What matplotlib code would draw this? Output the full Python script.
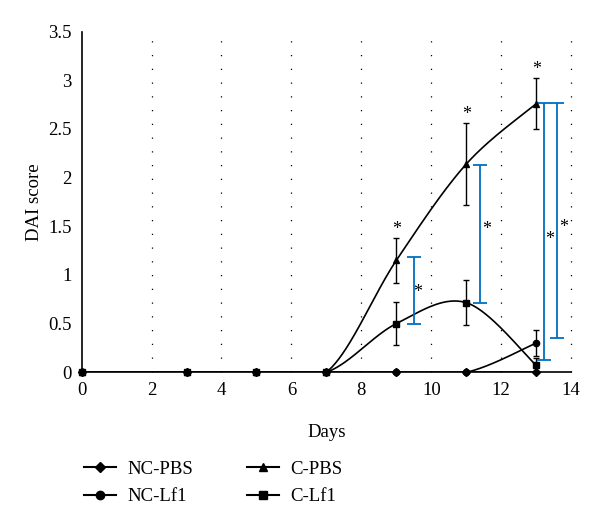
import numpy as np
import matplotlib.pyplot as plt
from matplotlib.lines import Line2D

plt.rcParams['font.family'] = ['Liberation Serif', 'DejaVu Serif']

days = [0, 3, 5, 7, 9, 11, 13]
nc_pbs = [0, 0, 0, 0, 0, 0, 0]
nc_lf1 = [0, 0, 0, 0, 0, 0, 0.30]
c_pbs = [0, 0, 0, 0, 1.15, 2.14, 2.76]
c_lf1 = [0, 0, 0, 0, 0.50, 0.715, 0.07]
nc_lf1_err = [0, 0, 0, 0, 0, 0, 0.13]
c_pbs_err = [0, 0, 0, 0, 0.23, 0.42, 0.26]
c_lf1_err = [0, 0, 0, 0, 0.22, 0.23, 0.08]

# significance brackets (x, low, high, star x, star y)
br_x = [9.5, 11.38, 13.22, 13.58]
br_lo = [0.50, 0.71, 0.13, 0.35]
br_hi = [1.18, 2.13, 2.77, 2.77]
star_x = [9.62, 11.58, 13.38, 13.78]
star_y = [0.82, 1.47, 1.36, 1.49]

blue = '#0070c0'


def smooth(x, y, n=40):
    # excel-like bezier smoothing
    p = np.column_stack([x, y]).astype(float)
    p = np.vstack([p[0], p, p[-1]])
    out = []
    for i in range(1, len(p) - 2):
        p0, p1, p2, p3 = p[i - 1], p[i], p[i + 1], p[i + 2]
        c1 = p1 + (p2 - p0) / 6
        c2 = p2 - (p3 - p1) / 6
        t = np.linspace(0, 1, n)[:, None]
        seg = (1 - t) ** 3 * p1 + 3 * (1 - t) ** 2 * t * c1 + 3 * (1 - t) * t ** 2 * c2 + t ** 3 * p2
        out.append(seg)
    out = np.vstack(out)
    return out[:, 0], out[:, 1]


fig = plt.figure(figsize=(6, 5.28), dpi=100)
ax = fig.add_axes([0.136, 0.295, 0.816, 0.645])

series = [(nc_pbs, None, 'D', 4), (nc_lf1, nc_lf1_err, 'o', 4.5),
          (c_pbs, c_pbs_err, '^', 4.5), (c_lf1, c_lf1_err, 's', 4.5)]
for y, err, m, ms in series:
    sx, sy = smooth(days, y)
    ax.plot(sx, sy, color='black', lw=1.2)
    if err is not None:
        ax.errorbar(days[4:], y[4:], yerr=err[4:], fmt='none', ecolor='black',
                    elinewidth=1, capsize=2, capthick=1, clip_on=False)
    ax.plot(days, y, ls='none', marker=m, ms=ms, color='black', clip_on=False, zorder=5)

# stars above C-PBS
for i in [4, 5, 6]:
    ax.text(days[i], c_pbs[i] + c_pbs_err[i] + 0.0, '*', ha='center', va='bottom', fontsize=13)

ax.errorbar(br_x, [(a + b) / 2 for a, b in zip(br_lo, br_hi)],
            yerr=[(b - a) / 2 for a, b in zip(br_lo, br_hi)], fmt='none',
            ecolor=blue, elinewidth=1.3, capsize=5, capthick=1.3, clip_on=False)
for sx_, sy_ in zip(star_x, star_y):
    ax.text(sx_, sy_, '*', ha='center', va='center', fontsize=13)

ax.set_xlim(0, 14)
ax.set_ylim(0, 3.5)
ax.set_xticks(range(0, 15, 2))
ax.set_yticks(np.arange(0, 3.6, 0.5))
ax.set_yticklabels(['0', '0.5', '1', '1.5', '2', '2.5', '3', '3.5'])
ax.tick_params(length=0, labelsize=13.5, pad=7)
for gx in range(2, 15, 2):
    ax.axvline(gx, color='black', ls=(0, (1, 10)), lw=0.9, zorder=0, clip_on=False)
ax.spines['top'].set_visible(False)
ax.spines['right'].set_visible(False)
ax.spines['left'].set_linewidth(1.2)
ax.spines['bottom'].set_linewidth(1.2)
ax.set_xlabel('Days', fontsize=13.5, labelpad=18)
ax.set_ylabel('DAI score', fontsize=13.5, labelpad=4)

handles = [Line2D([], [], color='black', marker='D', ms=5),
           Line2D([], [], color='black', marker='o', ms=6),
           Line2D([], [], color='black', marker='^', ms=6),
           Line2D([], [], color='black', marker='s', ms=6)]
labels = ['NC-PBS', 'NC-Lf1', 'C-PBS', 'C-Lf1']
fig.legend(handles, labels, ncol=2, frameon=False, fontsize=13.5,
           loc='center left', bbox_to_anchor=(0.112, 0.085), columnspacing=2.9,
           handlelength=1.7, handletextpad=0.6, labelspacing=0.55)

fig.savefig('out.png')
